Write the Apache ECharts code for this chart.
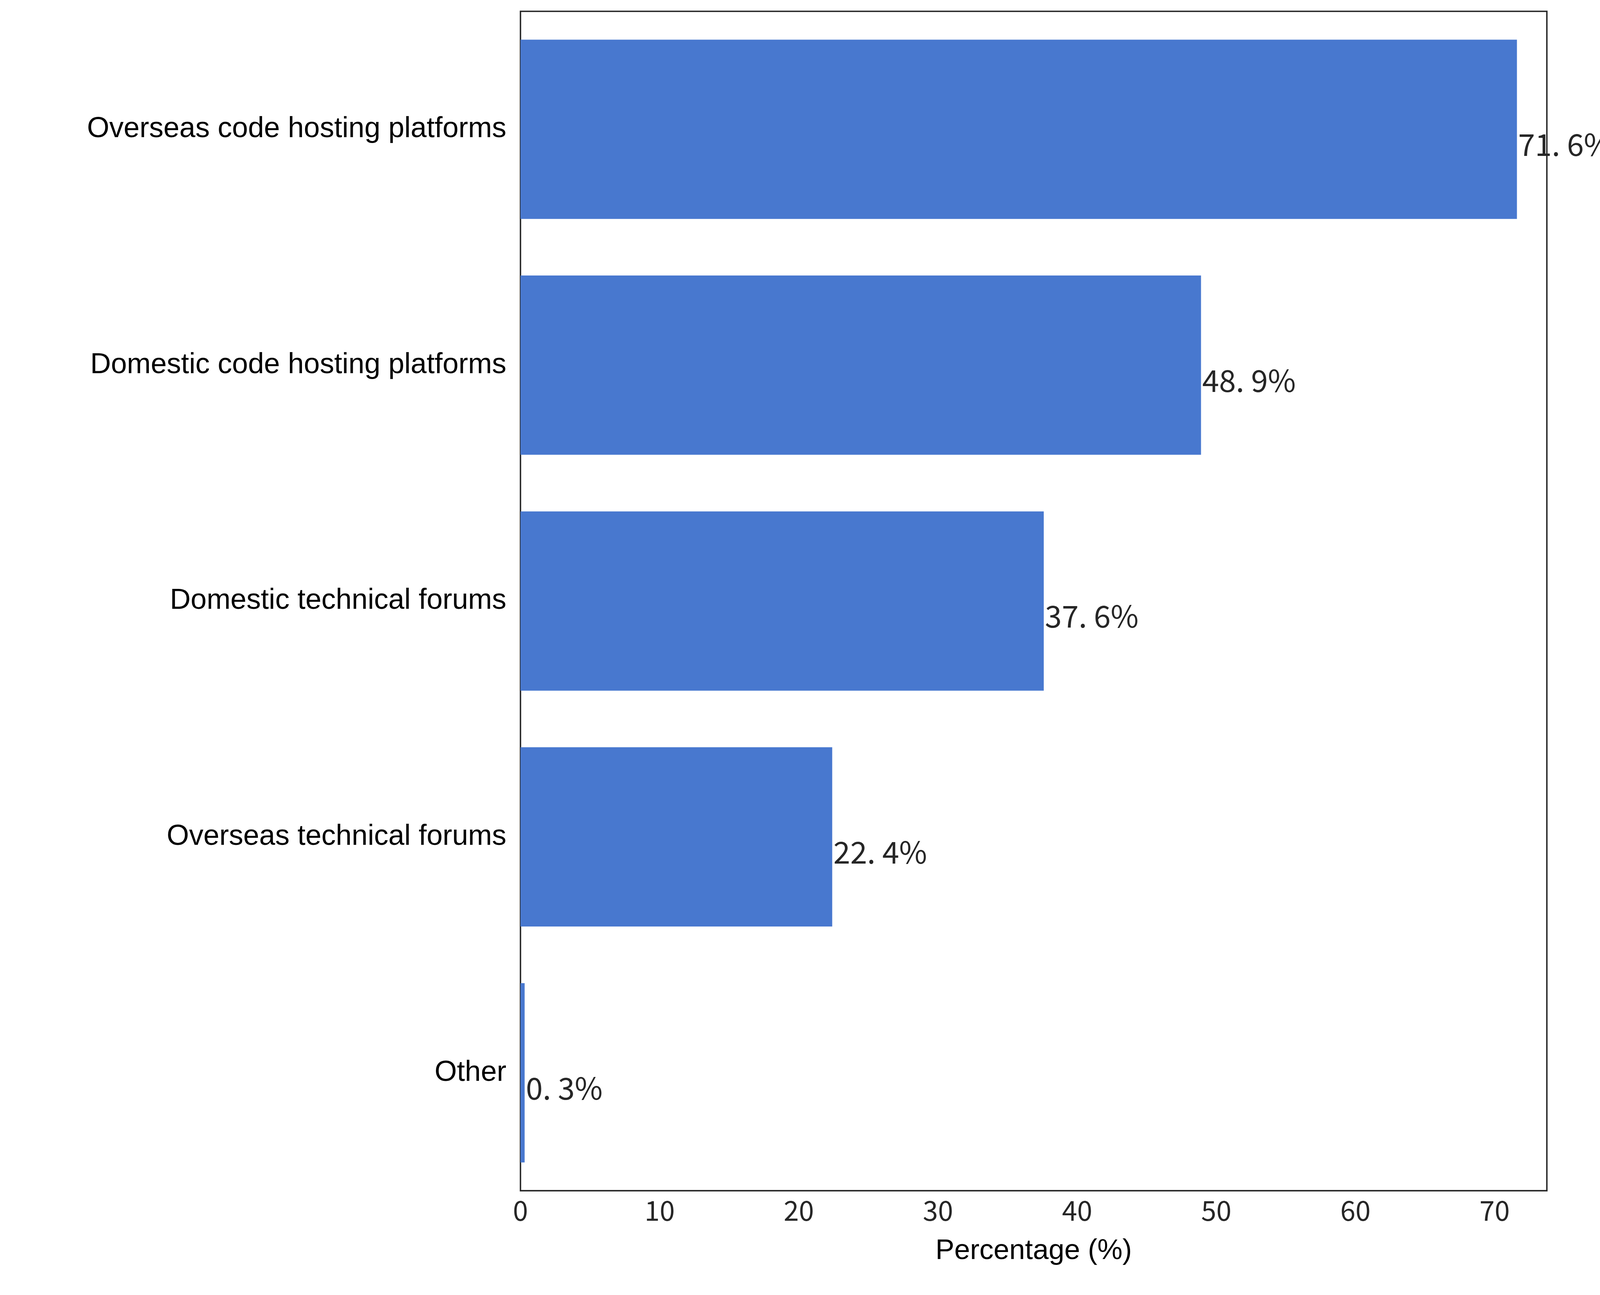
<!DOCTYPE html>
<html><head><meta charset="utf-8">
<script src="https://cdn.jsdelivr.net/npm/echarts@6/dist/echarts.min.js"></script>
<style>html,body{margin:0;background:#fff;overflow:hidden}#c{width:100vw;height:100vh}</style>
</head><body><div id="c"></div>
<script>
const categories = ['Overseas code hosting platforms', 'Domestic code hosting platforms', 'Domestic technical forums', 'Overseas technical forums', 'Other'];
const values = [71.6, 48.9, 37.6, 22.4, 0.3];
const xTicks = [0, 10, 20, 30, 40, 50, 60, 70];

// sizes are given for a 7919 px wide page and scaled to the real window
const k = window.innerWidth / 7919;
const s = v => v * k;

const chart = echarts.init(document.getElementById('c'));
chart.setOption({
  animation: false,
  grid: { left: s(2576), right: s(263), top: s(56), bottom: s(516), show: true, borderColor: '#262626', borderWidth: s(7) },
  xAxis: {
    type: 'value', min: 0, max: 73.75, interval: 10,
    name: 'Percentage (%)', nameLocation: 'middle', nameGap: s(230),
    nameTextStyle: { fontFamily: 'Liberation Sans', fontSize: s(140), color: '#000' },
    axisLine: { show: false }, axisTick: { show: false }, splitLine: { show: false },
    axisLabel: { fontFamily: 'Noto Sans CJK SC', fontSize: s(135), color: '#262626', margin: s(30),
      formatter: v => xTicks.includes(v) ? String(v) : '' }
  },
  yAxis: {
    type: 'category', data: categories, inverse: true,
    axisLine: { show: false }, axisTick: { show: false },
    axisLabel: { fontFamily: 'Liberation Sans', fontSize: s(142), color: '#000', margin: s(70) }
  },
  series: [{
    type: 'bar', data: values, barCategoryGap: '24%',
    itemStyle: { color: '#4878cf' },
    label: { show: true, position: 'right', distance: s(6), formatter: p => p.value.toFixed(1).replace('.', '. ') + '%',
      fontFamily: 'Noto Sans CJK SC', fontSize: s(150), color: '#262626', offset: [0, s(75)] }
  }]
});
</script></body></html>
